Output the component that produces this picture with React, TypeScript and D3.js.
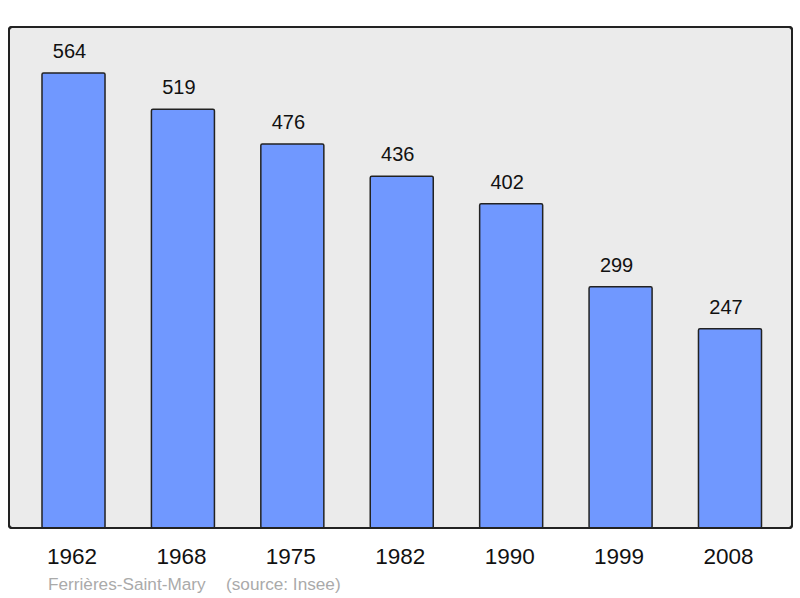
import React from "react";
import * as d3 from "d3";

const years = ["1962", "1968", "1975", "1982", "1990", "1999", "2008"];
const population = [564, 519, 476, 436, 402, 299, 247];
const place = "Ferrières-Saint-Mary";
const source = "(source: Insee)";

export default function App() {
  const W = 800, H = 598;
  const panel = { x: 9, y: 27, w: 783, h: 501 };
  const x = d3.scaleBand<string>().domain(years).range([9, 794.5]).paddingInner(0.424).paddingOuter(0.3016);
  const y = d3.scaleLinear().domain([0, 564]).range([panel.y + panel.h, 73]);
  const font = "'Liberation Sans', Arial, sans-serif";
  return (
    <svg width={W} height={H} style={{ position: "absolute", left: 0, top: 0 }}>
      <rect x={0} y={0} width={W} height={H} fill="#ffffff" />
      <rect x={panel.x} y={panel.y} width={panel.w} height={panel.h} rx={3} fill="#ebebeb" stroke="#222" strokeWidth={2} />
      {years.map((yr, i) => (
        <g key={yr}>
          <rect x={x(yr)} y={y(population[i])} width={x.bandwidth()} height={y(0) - y(population[i])} fill="#7098ff" stroke="#222" strokeWidth={1.5} rx={1.5} />
          <text x={(x(yr) as number) + x.bandwidth() / 2 - 4} y={y(population[i]) - 15} textAnchor="middle" fontFamily={font} fontSize={20} fill="#111">{population[i]}</text>
          <text x={(x(yr) as number) + x.bandwidth() / 2 - 1.5} y={564} textAnchor="middle" fontFamily={font} fontSize={22.5} fill="#111">{yr}</text>
        </g>
      ))}
      <rect x={panel.x} y={panel.y} width={panel.w} height={panel.h} rx={3} fill="none" stroke="#222" strokeWidth={2} />
      <text x={48} y={590} fontFamily={font} fontSize={17.2} fill="#aaaaaa">{place}</text>
      <text x={226} y={590} fontFamily={font} fontSize={17.2} fill="#aaaaaa">{source}</text>
    </svg>
  );
}
